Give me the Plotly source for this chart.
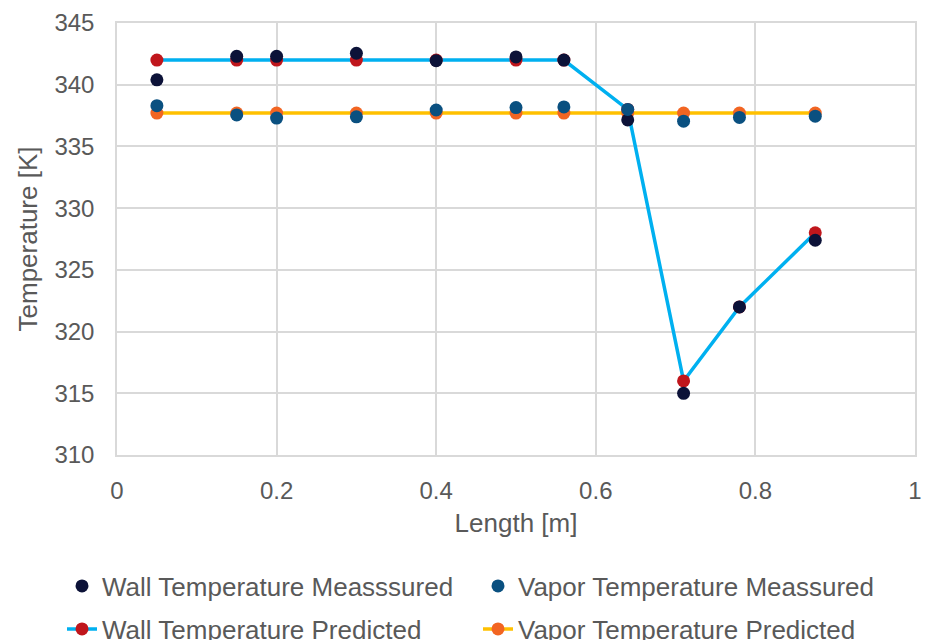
import plotly.graph_objects as go

length_m = [0.05, 0.15, 0.2, 0.3, 0.4, 0.5, 0.56, 0.64, 0.71, 0.78, 0.875]
wall_measured = [340.4, 342.3, 342.3, 342.55, 341.95, 342.25, 342.0, 337.15, 315.0, 322.0, 327.4]
vapor_measured = [338.3, 337.55, 337.3, 337.4, 337.95, 338.15, 338.2, 338.0, 337.05, 337.35, 337.45]
wall_predicted = [342, 342, 342, 342, 342, 342, 342, 338, 316, 322, 328]
vapor_predicted = [337.7] * 11

FONT = "Liberation Sans, Arial, sans-serif"
GRAY = "#595959"
GRID = "#d9d9d9"
MS = 13

fig = go.Figure()
fig.add_trace(go.Scatter(x=length_m, y=wall_predicted, mode="lines+markers",
                         name="Wall Temperature Predicted",
                         line=dict(color="#00b0f0", width=3.5),
                         marker=dict(color="#c0161c", size=MS), legend="legend3"))
fig.add_trace(go.Scatter(x=length_m, y=vapor_predicted, mode="lines+markers",
                         name="Vapor Temperature Predicted",
                         line=dict(color="#ffc000", width=3.5),
                         marker=dict(color="#f26522", size=MS), legend="legend4"))
fig.add_trace(go.Scatter(x=length_m, y=wall_measured, mode="markers",
                         name="Wall Temperature Measssured",
                         marker=dict(color="#0c1238", size=MS), legend="legend"))
fig.add_trace(go.Scatter(x=length_m, y=vapor_measured, mode="markers",
                         name="Vapor Temperature Meassured",
                         marker=dict(color="#0a5080", size=MS), legend="legend2"))

axis_common = dict(showgrid=True, gridcolor=GRID, gridwidth=1.5, showline=True,
                   linecolor=GRID, linewidth=1.5, mirror=True, zeroline=False,
                   ticks="", tickfont=dict(family=FONT, size=24, color=GRAY),
                   title_font=dict(family=FONT, size=26, color=GRAY))

leg_common = dict(orientation="h", font=dict(family=FONT, size=26, color=GRAY),
                  bgcolor="rgba(0,0,0,0)",
                  xref="container", yref="container", xanchor="left", yanchor="middle")

col1_x = 62 / 928
col2_x = 478 / 928
row1_y = 1 - 586 / 640
row2_y = 1 - 629 / 640

fig.update_layout(
    width=928, height=640,
    margin=dict(l=117, r=6, t=23, b=185),
    paper_bgcolor="white", plot_bgcolor="white",
    showlegend=True,
    xaxis=dict(range=[0, 1], dtick=0.2, title=dict(text="Length [m]", standoff=11),
               ticklabelstandoff=13, **axis_common),
    yaxis=dict(range=[310, 345], dtick=5, title=dict(text="Temperature [K]", standoff=9),
               ticklabelstandoff=16, **axis_common),
    legend=dict(x=col1_x, y=row1_y, **leg_common),
    legend2=dict(x=col2_x, y=row1_y, **leg_common),
    legend3=dict(x=col1_x, y=row2_y, **leg_common),
    legend4=dict(x=col2_x, y=row2_y, **leg_common),
)

fig.write_html("out.html")
